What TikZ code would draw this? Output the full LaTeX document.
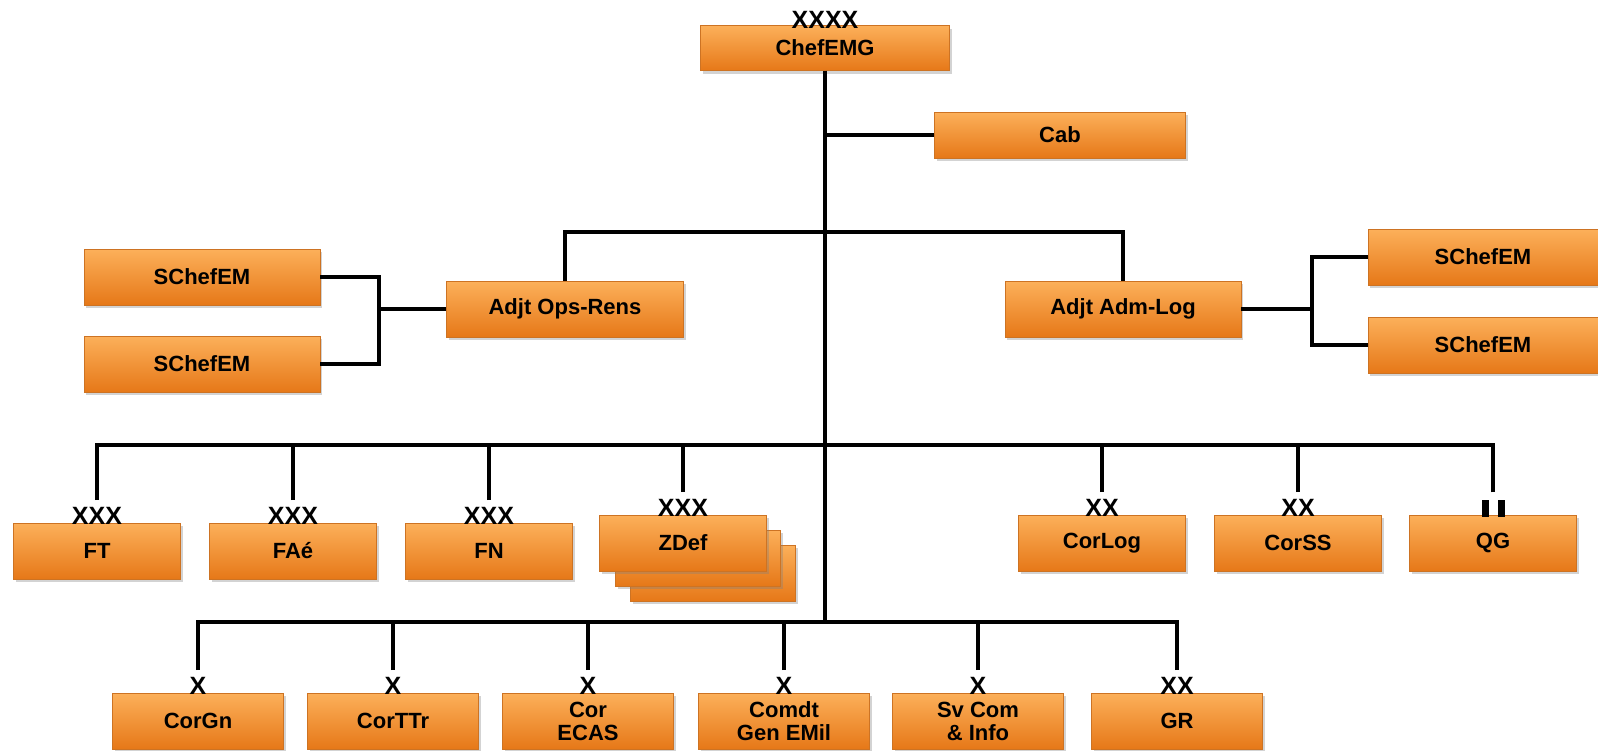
\documentclass[tikz,border=0pt]{standalone}
\usepackage{fontspec}
\setmainfont{Liberation Sans}
\usetikzlibrary{positioning,shadows}

\definecolor{boxtop}{RGB}{252,176,90}
\definecolor{boxbot}{RGB}{230,120,24}
\definecolor{boxline}{RGB}{205,115,35}

\tikzset{
    org box/.style={
        draw=boxline,thin,
        top color=boxtop,bottom color=boxbot,
        drop shadow={opacity=.35,shadow xshift=2pt,shadow yshift=-3pt},
        minimum width=167pt,minimum height=56pt,
        align=center,inner sep=2pt,
        font=\fontsize{22}{23}\selectfont\bfseries
    },
    echelon/.style={
        inner sep=1pt,
        font=\fontsize{25}{25}\selectfont\bfseries
    },
    link/.style={line width=3.5pt}
}

\begin{document}
\begin{tikzpicture}[x=1pt,y=-1pt]
        \useasboundingbox (0,0) rectangle (1598,750);
        % top of the tree
        \node[org box,minimum width=249pt,minimum height=45pt] (chef) at (825,48) {ChefEMG};
        \node[echelon,above=-4pt of chef] (chefl) {XXXX};
        \node[org box,minimum width=251pt,minimum height=46pt] (cab) at (1060,135) {Cab};
        \node[org box,minimum width=237pt] (ops) at (565,309) {Adjt Ops-Rens};
        \node[org box,minimum width=236pt] (adm) at (1123,309) {Adjt Adm-Log};
        \node[org box,minimum width=236pt] (sl1) at (202,277) {SChefEM};
        \node[org box,minimum width=236pt] (sl2) at (202,364) {SChefEM};
        \node[org box,minimum width=230pt] (sr1) at (1483,257) {SChefEM};
        \node[org box,minimum width=230pt] (sr2) at (1483,345) {SChefEM};
        \coordinate (b1) at (825,232);
        \coordinate (lb) at (379,309);
        \coordinate (rb) at (1312,309);
        \coordinate (bus1) at (825,445);
        \coordinate (bus2) at (825,622);
        \draw[link] (chef.south) -- (bus2);
        \draw[link] (chef.south |- cab.west) -- (cab.west);
        \draw[link] (ops.north) |- (b1) -| (adm.north);
        \draw[link] (sl1.east) -| (lb) |- (sl2.east);
        \draw[link] (lb) -- (ops.west);
        \draw[link] (sr1.west) -| (rb) |- (sr2.west);
        \draw[link] (adm.east) -- (rb);
        % middle row
        \node[org box,minimum width=165pt,xshift=30pt,yshift=-30pt] (zdef3) at (683,543) {};
        \node[org box,minimum width=165pt,xshift=15pt,yshift=-15pt] (zdef2) at (683,543) {};
        \foreach \x/\y/\name/\txt/\ech in {97/551/ft/FT/XXX,293/551/fae/FAé/XXX,489/551/fn/FN/XXX,
                                           683/543/zdef/ZDef/XXX,1102/543/corlog/CorLog/XX,1298/543/corss/CorSS/XX,
                                           1493/543/qg/QG/{\rule{7pt}{17pt}\hspace{9pt}\rule{7pt}{17pt}}}{
            \node[org box] (\name) at (\x,\y) {\txt};
            \node[echelon,above=-3pt of \name] (\name l) {\ech};
            \draw[link] ([yshift=6pt]\name l.north) |- (bus1);
        }
        % bottom row
        \foreach \x/\name/\txt/\ech in {198/corgn/CorGn/X,393/corttr/CorTTr/X,588/corecas/{Cor\\ECAS}/X,
                                        784/comdt/{Comdt\\Gen EMil}/X,978/svcom/{Sv Com\\\& Info}/X,1177/gr/GR/XX}{
            \node[org box,minimum width=171pt] (\name) at (\x,721) {\txt};
            \node[echelon,above=-3pt of \name] (\name l) {\ech};
            \draw[link] ([yshift=6pt]\name l.north) |- (bus2);
        }
    \end{tikzpicture}
\end{document}
